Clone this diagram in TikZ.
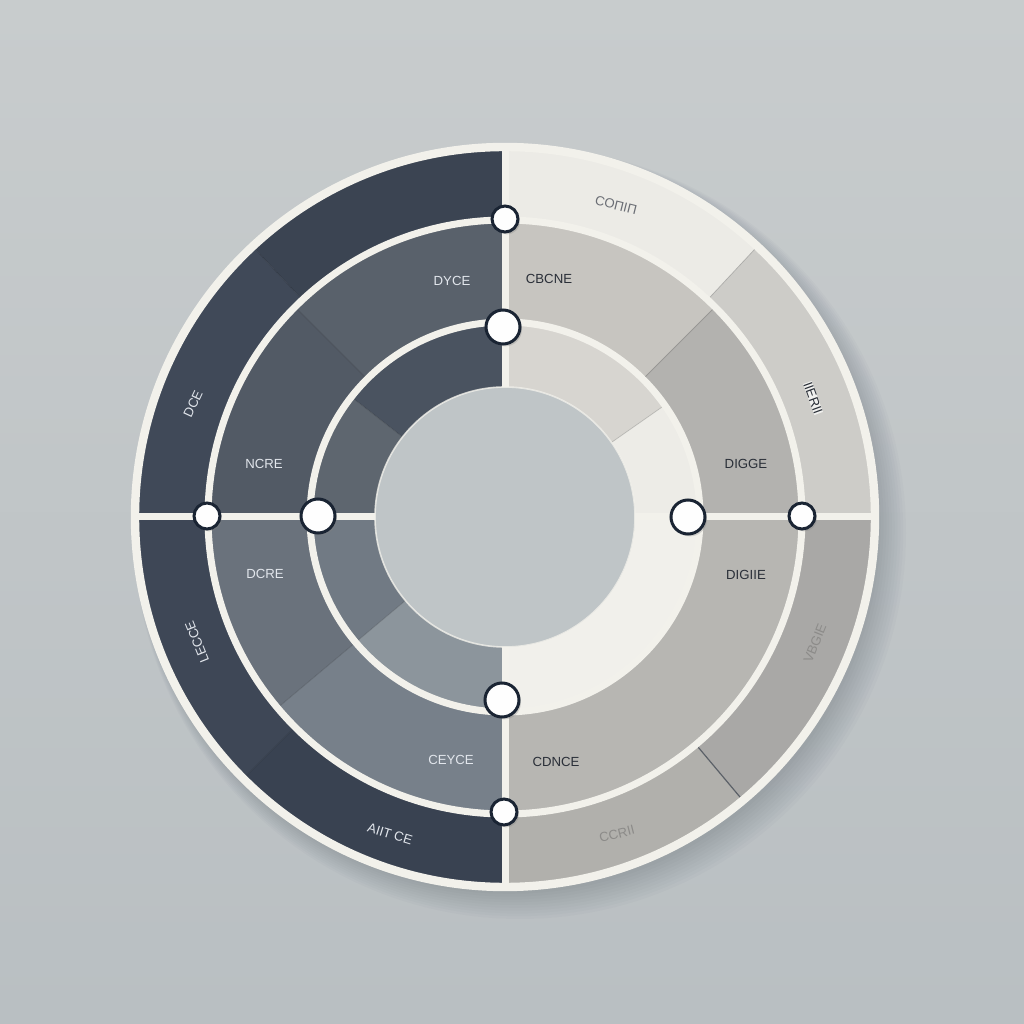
\documentclass[tikz,border=0pt]{standalone}
\usepackage{fontspec}
\setmainfont{Liberation Sans}
\usetikzlibrary{shadows}
\definecolor{bgtop}{HTML}{C8CCCD}
\definecolor{bgbot}{HTML}{B9BFC2}
\definecolor{holec}{HTML}{BFC5C7}
\definecolor{rimw}{HTML}{F2F1EB}
\definecolor{navy}{HTML}{1A2433}
\definecolor{lighttxt}{HTML}{E2E6EC}
\definecolor{darktxt}{HTML}{2A2F38}
\definecolor{fainttxt}{HTML}{8C8B89}
\definecolor{oTLa}{HTML}{3B4452}
\definecolor{oTLb}{HTML}{404958}
\definecolor{oBLa}{HTML}{3E4756}
\definecolor{oBLb}{HTML}{394251}
\definecolor{oTRa}{HTML}{ECEBE6}
\definecolor{oTRb}{HTML}{CDCCC8}
\definecolor{oBRa}{HTML}{A9A8A6}
\definecolor{oBRb}{HTML}{B1B0AC}
\definecolor{mTLa}{HTML}{59616B}
\definecolor{mTLb}{HTML}{525A65}
\definecolor{mBLa}{HTML}{6A727C}
\definecolor{mBLb}{HTML}{77808A}
\definecolor{mTRa}{HTML}{C7C5C0}
\definecolor{mTRb}{HTML}{B3B2AF}
\definecolor{mBR}{HTML}{B7B6B2}
\definecolor{iTLa}{HTML}{4A5360}
\definecolor{iTLb}{HTML}{5E666F}
\definecolor{iBLa}{HTML}{717A84}
\definecolor{iBLb}{HTML}{8C959C}
\definecolor{iTRa}{HTML}{D7D5D0}
\definecolor{iTRb}{HTML}{EDECE7}
\definecolor{iBR}{HTML}{F1F0EB}
\newcommand\ringseg[5]{\fill[#5] (#1:#3) arc[start angle=#1,end angle=#2,radius=#3] -- (#2:#4) arc[start angle=#2,end angle=#1,radius=#4] -- cycle;}
\newcommand\crease[3]{\draw[black,opacity=0.15,line width=0.4pt] (#1:#2) -- (#1:#3);}
\tikzset{
  dot/.style={circle,fill=white!95!rimw,draw=navy,line width=1.5pt,inner sep=0pt,
    drop shadow={opacity=0.3,shadow xshift=1pt,shadow yshift=-1.2pt}},
  smalldot/.style={dot,minimum size=13pt},
  bigdot/.style={dot,minimum size=17pt},
  lbl/.style={font=\fontsize{6.6}{7}\selectfont,inner sep=0pt},
  lightlbl/.style={lbl,text=lighttxt},
  darklbl/.style={lbl,text=darktxt},
  faintlbl/.style={lbl,text=fainttxt},
  whiteline/.style={rimw,line width=3.5pt}
}
\begin{document}
\begin{tikzpicture}[x=0.5pt,y=0.5pt]
\useasboundingbox (0,0) rectangle (1024,1024);
\shade[shading angle=20,top color=bgtop,bottom color=bgbot] (0,0) rectangle (1024,1024);
% soft shadow of the disc, towards the lower right
\foreach \i in {1,...,10}
  \fill[navy,opacity=0.018] ({508+\i*1.2},{503-\i*1.2}) circle[radius={370+\i*1.6}];
\begin{scope}[shift={(505,507)}]
% outer ring
\ringseg{90}{133}{300}{368}{oTLa}
\ringseg{133}{180}{300}{368}{oTLb}
\ringseg{180}{225}{300}{368}{oBLa}
\ringseg{225}{270}{300}{368}{oBLb}
\ringseg{47}{90}{300}{368}{oTRa}
\ringseg{0}{47}{300}{368}{oTRb}
\ringseg{-50}{0}{300}{368}{oBRa}
\ringseg{-90}{-50}{300}{368}{oBRb}
% middle ring
\ringseg{90}{135}{196}{298}{mTLa}
\ringseg{135}{180}{196}{298}{mTLb}
\ringseg{180}{220}{196}{298}{mBLa}
\ringseg{220}{270}{196}{298}{mBLb}
\ringseg{45}{90}{196}{298}{mTRa}
\ringseg{0}{45}{196}{298}{mTRb}
\ringseg{-90}{0}{196}{298}{mBR}
% inner ring
\ringseg{90}{142}{130}{196}{iTLa}
\ringseg{142}{180}{130}{196}{iTLb}
\ringseg{180}{220}{130}{196}{iBLa}
\ringseg{220}{270}{130}{196}{iBLb}
\ringseg{35}{90}{130}{196}{iTRa}
\ringseg{0}{35}{130}{196}{iTRb}
\ringseg{-90}{0}{130}{196}{iBR}
% creases
\crease{133}{300}{368}
\crease{-135}{300}{368}
\crease{47}{300}{368}
\draw[navy,opacity=0.55,line width=0.6pt] (-50:300) -- (-50:368);
\crease{135}{196}{298}
\crease{-140}{196}{298}
\crease{45}{196}{298}
\crease{142}{130}{196}
\crease{-140}{130}{196}
\crease{35}{130}{196}
% hole
\fill[holec] (0,0) circle[radius=130];
\draw[rimw,opacity=0.8,line width=0.8pt] (0,0) circle[radius=130];
% white rings and dividers
\draw[rimw,line width=4.2pt] (0,0) circle[radius=370];
\draw[whiteline] (0,0) circle[radius=297];
\draw[whiteline] (0,0) circle[radius=195];
\foreach \a in {0,90,180,270}
  \draw[whiteline] (\a:130) -- (\a:368);
\end{scope}
% nodes on the rings (image y -> 1024 - y)
\node[smalldot] (ntop)   at (505,805) {};
\node[smalldot] (nleft)  at (207,508) {};
\node[smalldot] (nright) at (802,508) {};
\node[smalldot] (nbot)   at (504,212) {};
\node[bigdot]   (itop)   at (503,697) {};
\node[bigdot]   (ileft)  at (318,508) {};
\node[bigdot]   (iright) at (688,507) {};
\node[bigdot]   (ibot)   at (502,324) {};
% labels
\node[darklbl,text=darktxt!70,rotate=-14] (l1) at (616,819) {COΠIΠ};
\node[darklbl]  (l2) at (549,745) {CBCNE};
\node[lightlbl] (l3) at (452,743) {DYCE};
\node[lightlbl,rotate=65] (l4) at (193,620) {DCE};
\node[lightlbl] (l5) at (264,560) {NCRE};
\node[lightlbl] (l6) at (265,450) {DCRE};
\node[lightlbl,rotate=112] (l7) at (197,382) {LECCE};
\node[lightlbl,rotate=-17] (l8) at (390,190) {AIIT CE};
\node[lightlbl] (l9) at (451,264) {CEYCE};
\node[darklbl]  (l10) at (556,262) {CDNCE};
\node[faintlbl,rotate=14] (l11) at (617,190) {CCRII};
\node[darklbl]  (l12) at (746,560) {DIGGE};
\node[darklbl]  (l13) at (746,449) {DIGIIE};
\node[darklbl,rotate=-70,fill=white!70!oTRb] (l14) at (813,626) {IIERII};
\node[faintlbl,rotate=68] (l15) at (815,381) {VBGIE};
\end{tikzpicture}
\end{document}
